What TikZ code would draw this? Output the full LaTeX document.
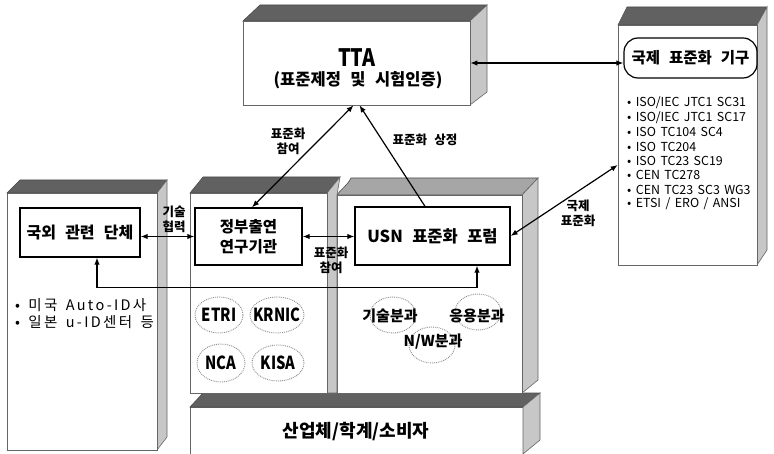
\documentclass[tikz,border=0pt]{standalone}
\usepackage{fontspec}
\setmainfont{Noto Sans CJK KR}[WordSpace=2.5]
\newfontfamily\condfont{Noto Sans CJK KR}[FakeStretch=0.82]
\newfontfamily\listfont{Noto Sans CJK KR}[WordSpace=1.6]
\newfontfamily\widefont{Noto Sans CJK KR}[LetterSpace=16,WordSpace=1.5]
\usetikzlibrary{arrows.meta,shapes.geometric}
\tikzset{
  frontface/.style={draw=black!60, line width=0.6pt, fill=white},
  topface/.style={draw=black!70, line width=0.6pt, fill=black!62},
  lighttop/.style={draw=black!70, line width=0.6pt, fill=black!35},
  sideface/.style={draw=black!60, line width=0.6pt, fill=black!22},
  boxnode/.style={draw, line width=1.3pt, fill=white, inner sep=0pt, align=center, font=\fontsize{16}{20}\selectfont\bfseries},
  arr/.style={line width=1.2pt, {Latex[length=7pt,width=5.5pt]}-{Latex[length=7pt,width=5.5pt]}},
  onearr/.style={line width=1.2pt, -{Latex[length=7pt,width=5.5pt]}},
  lab/.style={align=center, inner sep=1pt, font=\fontsize{12.5}{15}\selectfont\bfseries},
  listitem/.style={anchor=west, inner sep=0pt, font=\listfont\fontsize{12.4}{15}\selectfont},
  bulletitem/.style={anchor=west, inner sep=0pt, font=\widefont\fontsize{14.5}{16}\selectfont},
  subell/.style={draw=black!45, densely dotted, line width=0.9pt, ellipse, inner sep=0pt},
  subtext/.style={inner sep=0pt, font=\fontsize{15}{18}\selectfont\bfseries},
  insttext/.style={inner sep=0pt, font=\condfont\fontsize{18}{20}\selectfont\bfseries},
}
\begin{document}
\begin{tikzpicture}[x=1pt,y=-1pt]
\useasboundingbox (0,0) rectangle (774,454);

% ---------- bottom block ----------
\fill[white] (190,407) rectangle (523,454);
\draw[black!60, line width=0.6pt] (190,454) -- (190,407) -- (523,407) -- (523,454);
\draw[topface] (190,407) -- (203,393) -- (540,393) -- (523,407) -- cycle;
\draw[sideface] (523,407) -- (540,393) -- (540,440) -- (523,454) -- cycle;
\node[inner sep=0pt, font=\fontsize{18}{20}\selectfont\bfseries] (ind) at (356,432) {산업체/학계/소비자};

% ---------- middle-right block ----------
\draw[lighttop] (337,195) .. controls (342,188) and (347,186) .. (351,178) -- (538,178) -- (522,195) -- cycle;
\draw[sideface] (522,195) -- (538,178) -- (538,380) -- (522,393) -- cycle;
\draw[frontface] (337,195) rectangle (522,393);

% ---------- middle-left block ----------
\draw[topface] (190,193) -- (203,177) -- (340,177) -- (327,193) -- cycle;
\draw[sideface] (327,193) -- (340,177) -- (337,195) -- (337,393) -- (327,393) -- cycle;
\draw[frontface] (190,193) rectangle (327,393);

% ---------- left block ----------
\draw[topface] (7,193) -- (20,180) -- (167,180) -- (157,193) -- cycle;
\draw[sideface] (157,193) -- (167,180) -- (167,437) -- (157,450) -- cycle;
\draw[frontface] (7,193) rectangle (157,450);

% ---------- TTA block ----------
\draw[topface] (243,21) -- (260,5) -- (487,5) -- (470,21) -- cycle;
\draw[sideface] (470,21) -- (487,5) -- (487,92) -- (470,105) -- cycle;
\node[frontface, minimum width=227pt, minimum height=84pt, inner sep=0pt] (ttaf) at (356.5,63) {};
\node[inner sep=0pt, font=\condfont\fontsize{24}{26}\selectfont\bfseries] (ttat) at (357,58) {TTA};
\node[inner sep=0pt, font=\fontsize{16.5}{18}\selectfont\bfseries] (ttas) at (358,80) {(표준제정 및 시험인증)};

% ---------- international block ----------
\draw[topface] (618,25) -- (627,7) -- (767,7) -- (757,25) -- cycle;
\draw[sideface] (757,25) -- (767,7) -- (767,250) -- (757,265) -- cycle;
\node[frontface, minimum width=139pt, minimum height=240pt, inner sep=0pt] (intl) at (687.5,145) {};
\node[draw, line width=1.2pt, rounded corners=14pt, fill=white, minimum width=133pt, minimum height=40pt, inner sep=0pt, font=\fontsize{15.5}{18}\selectfont\bfseries] (iso) at (690.5,58) {국제 표준화 기구};
\node[listitem] (l1) at (627,103) {• ISO/IEC JTC1 SC31};
\node[listitem] (l2) at (627,118) {• ISO/IEC JTC1 SC17};
\node[listitem] (l3) at (627,132) {• ISO TC104 SC4};
\node[listitem] (l4) at (627,147) {• ISO TC204};
\node[listitem] (l5) at (627,161) {• ISO TC23 SC19};
\node[listitem] (l6) at (627,175) {• CEN TC278};
\node[listitem] (l7) at (627,190) {• CEN TC23 SC3 WG3};
\node[listitem] (l8) at (627,204) {• ETSI / ERO / ANSI};

% ---------- inner boxes ----------
\node[boxnode, minimum width=120pt, minimum height=49pt] (kor) at (80,232.5) {국외 관련 단체};
\node[boxnode, minimum width=107pt, minimum height=57pt, font=\fontsize{15.5}{20}\selectfont\bfseries] (gov) at (248.5,236.5) {정부출연\\연구기관};
\node[boxnode, minimum width=155pt, minimum height=58pt, font=\fontsize{16.5}{20}\selectfont\bfseries] (usn) at (432.5,236) {USN 표준화 포럼};

% left block bullets
\node[bulletitem] (b1) at (15,305) {• 미국 Auto-ID사};
\node[bulletitem] (b2) at (15,322) {• 일본 u-ID센터 등};

% research institutes
\node[subell, minimum width=48pt, minimum height=36pt] (etri) at (219,315) {};
\node[subell, minimum width=54pt, minimum height=36pt] (krnic) at (277,315) {};
\node[subell, minimum width=48pt, minimum height=38pt] (nca) at (221,363) {};
\node[subell, minimum width=52pt, minimum height=36pt] (kisa) at (278,363) {};
\node[insttext] (etrit) at (etri) {ETRI};
\node[insttext] (krnict) at (krnic) {KRNIC};
\node[insttext] (ncat) at (nca) {NCA};
\node[insttext] (kisat) at (kisa) {KISA};

% USN sub-committees
\node[subell, minimum width=46pt, minimum height=36pt] (e1) at (393,315) {};
\node[subell, minimum width=46pt, minimum height=36pt] (e2) at (478,312) {};
\node[subell, minimum width=46pt, minimum height=36pt] (e3) at (432,345) {};
\node[subtext] (s1) at (390,316) {기술분과};
\node[subtext] (s2) at (477,316) {응용분과};
\node[subtext] (s3) at (433,342) {N/W분과};

% ---------- connectors ----------
\draw[arr] (kor.east |- gov.west) -- (gov.west);
\draw[arr] (gov.east) -- (usn.west |- gov.east);
\draw[arr] ([xshift=17pt]kor.south) -- ++(0,30) -| ([xshift=44.5pt]usn.south);
\draw[arr] ([xshift=3.5pt]gov.north) -- ([xshift=-3pt]ttaf.south);
\draw[onearr] ([xshift=-7.5pt]usn.north) -- ([xshift=3pt]ttaf.south);
\draw[arr] (ttaf.east) -- (iso.west |- ttaf.east);
\draw[arr] (usn.east) -- ([yshift=-20pt]intl.west);

% ---------- labels ----------
\node[lab] (lb1) at (174,219) {기술\\협력};
\node[lab] (lb2) at (331,260) {표준화\\참여};
\node[lab] (lb3) at (288,141) {표준화\\참여};
\node[lab] (lb4) at (425,140) {표준화 상정};
\node[lab] (lb5) at (578,213) {국제\\표준화};
\end{tikzpicture}
\end{document}
